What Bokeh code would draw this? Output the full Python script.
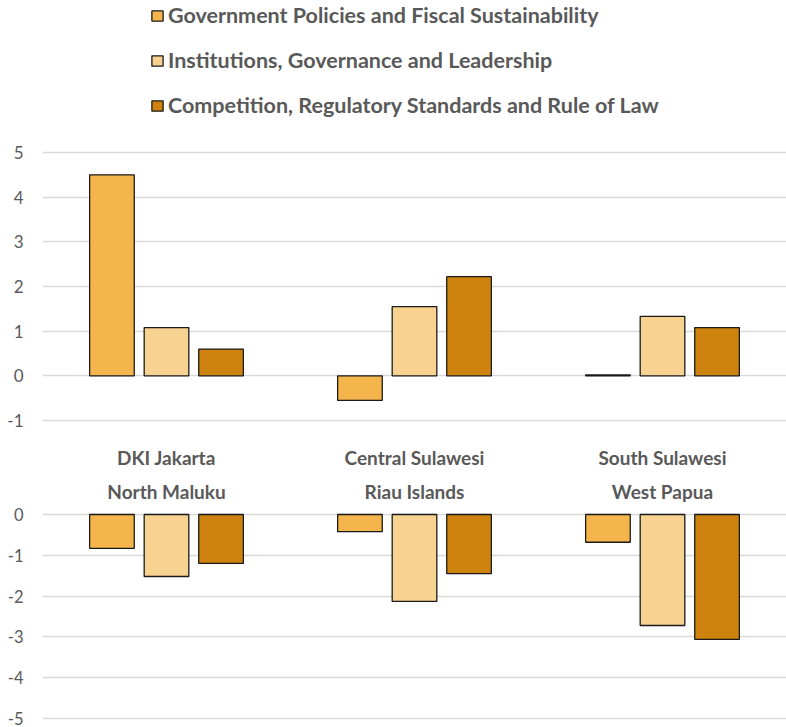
from bokeh.plotting import figure
from bokeh.models import FactorRange, Range1d, Legend, LegendItem, ColumnDataSource, FixedTicker
from bokeh.transform import dodge
from bokeh.layouts import column
from bokeh.embed import file_html
from bokeh.resources import INLINE

top_regions = ["DKI Jakarta", "Central Sulawesi", "South Sulawesi"]
bottom_regions = ["North Maluku", "Riau Islands", "West Papua"]
series = ["Government Policies and Fiscal Sustainability",
          "Institutions, Governance and Leadership",
          "Competition, Regulatory Standards and Rule of Law"]
top_gov = [4.5, -0.55, 0.02]
top_inst = [1.08, 1.55, 1.33]
top_comp = [0.6, 2.22, 1.08]
bot_gov = [-0.83, -0.42, -0.68]
bot_inst = [-1.52, -2.13, -2.72]
bot_comp = [-1.2, -1.45, -3.06]
top_ticks = [-1, 0, 1, 2, 3, 4, 5]
bot_ticks = [-5, -4, -3, -2, -1, 0]
colors = ["#F4B64C", "#F7D290", "#CD830D"]

FONT = "Lato"
GREY = "#595959"
offsets = [-0.22, 0.0, 0.22]


def make_fig(regions, vals, ticks, yr, height, axis_side):
    src = ColumnDataSource(dict(region=regions, s0=vals[0], s1=vals[1], s2=vals[2]))
    p = figure(x_range=FactorRange(*regions), y_range=Range1d(*yr),
               width=786, height=height,
               output_backend="svg", toolbar_location=None,
               x_axis_location=axis_side,
               min_border_left=42, min_border_right=0,
               min_border_top=0, min_border_bottom=0)
    rends = []
    for i, key in enumerate(["s0", "s1", "s2"]):
        r = p.vbar(x=dodge("region", offsets[i], range=p.x_range), top=key, bottom=0,
                   width=0.18, source=src, fill_color=colors[i],
                   line_color="#1a1a1a", line_width=1.3)
        rends.append(r)
    p.outline_line_color = None
    p.xgrid.grid_line_color = None
    p.ygrid.grid_line_color = "#D9D9D9"
    p.ygrid.grid_line_width = 1.3
    p.yaxis.ticker = FixedTicker(ticks=ticks)
    p.yaxis.major_label_overrides = {t: str(t) for t in ticks}
    p.yaxis.axis_line_color = None
    p.yaxis.major_tick_line_color = None
    p.yaxis.minor_tick_line_color = None
    p.yaxis.major_tick_out = 0
    p.yaxis.major_tick_in = 0
    p.yaxis.minor_tick_out = 0
    p.yaxis.major_label_text_font = FONT
    p.yaxis.major_label_text_font_size = "17px"
    p.yaxis.major_label_text_color = GREY
    p.yaxis.major_label_standoff = 19
    p.xaxis.axis_line_color = None
    p.xaxis.major_tick_line_color = None
    p.xaxis.minor_tick_line_color = None
    p.xaxis.major_tick_out = 0
    p.xaxis.major_tick_in = 0
    p.xaxis.major_label_text_font = FONT
    p.xaxis.major_label_text_font_size = "19px"
    p.xaxis.major_label_text_font_style = "bold"
    p.xaxis.major_label_text_color = GREY
    return p, rends


# top panel: frame spans the legend area too (ticks/grid only from -1 to 5)
p_top, rends = make_fig(top_regions, [top_gov, top_inst, top_comp], top_ticks,
                        (-1.067, 8.403), 475, "below")
p_top.xaxis.major_label_standoff = 22
p_top.min_border_bottom = 52

legend = Legend(items=[LegendItem(label=series[i], renderers=[rends[i]]) for i in range(3)],
                orientation="vertical", location=(108, 305),
                label_text_font=FONT, label_text_font_size="21.5px",
                label_text_font_style="bold", label_text_color=GREY,
                glyph_width=14, glyph_height=13, label_height=26, label_standoff=4,
                spacing=19, padding=2, margin=0,
                border_line_color=None, background_fill_alpha=0)
p_top.add_layout(legend)

p_bot, _ = make_fig(bottom_regions, [bot_gov, bot_inst, bot_comp], bot_ticks,
                    (-5.22, 0.0735), 252, "above")
p_bot.xaxis.major_label_standoff = 9
p_bot.min_border_top = 36
p_bot.yaxis.major_label_text_font_size = "16.5px"

layout = column(p_top, p_bot, spacing=0)
open("out.html", "w").write(file_html(layout, INLINE))
